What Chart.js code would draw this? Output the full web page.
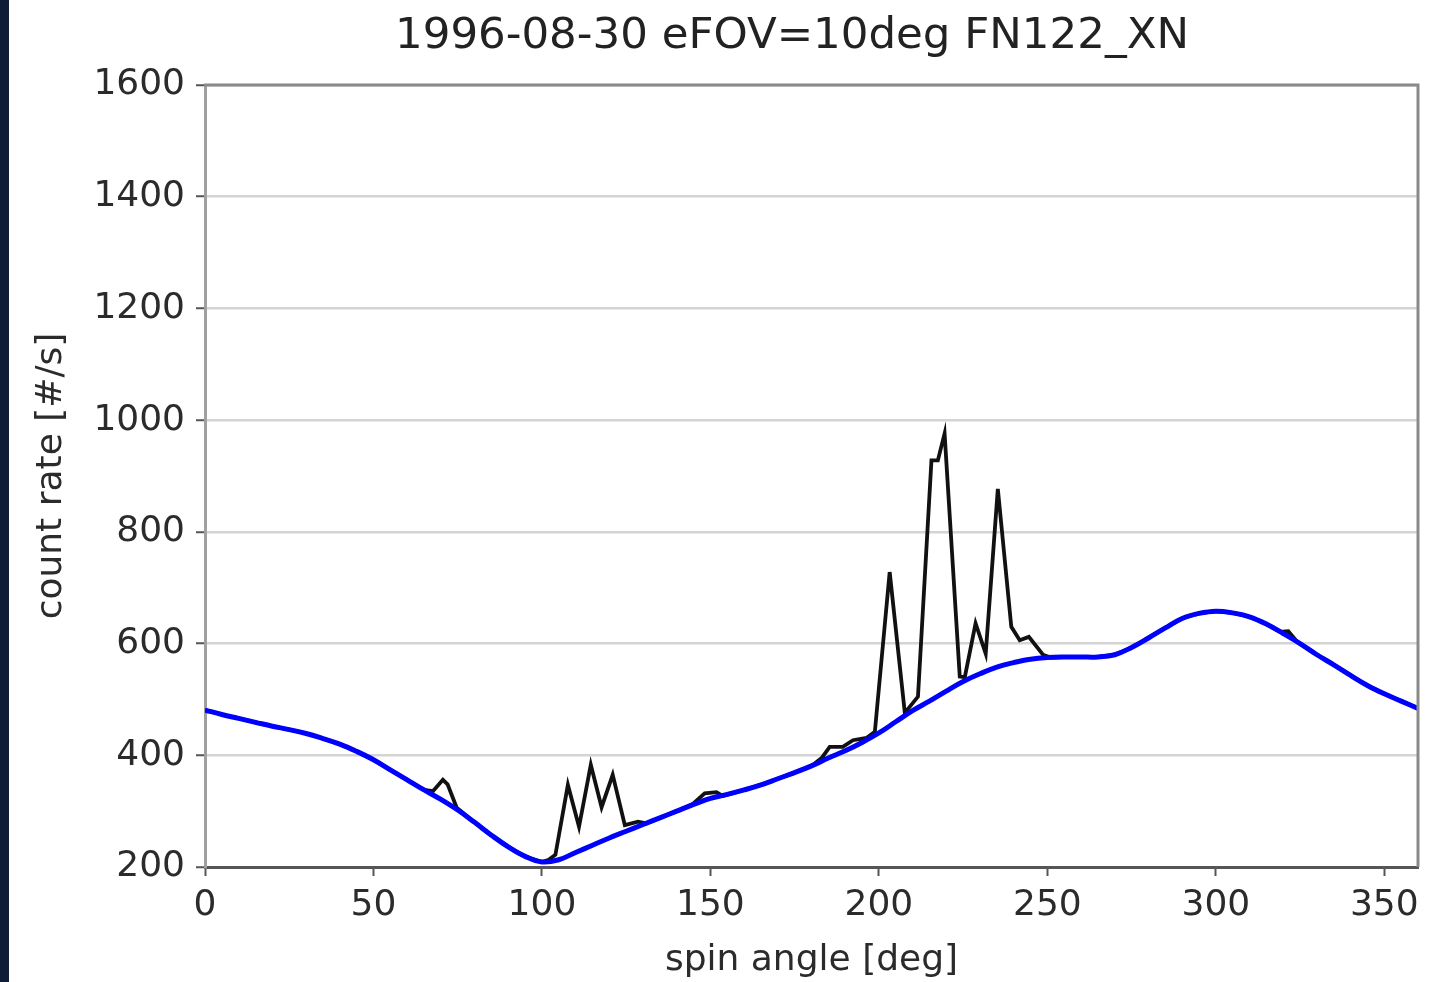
<!DOCTYPE html>
<html>
<head>
<meta charset="utf-8">
<script src="https://cdn.jsdelivr.net/npm/chart.js@4.4.1/dist/chart.umd.min.js"></script>
<style>
  html, body { margin: 0; padding: 0; background: #ffffff; }
  #wrap { position: relative; width: 1449px; height: 982px; }
  #edge { position: absolute; left: 0; top: 0; width: 9px; height: 982px; background: #0f1d36; }
</style>
</head>
<body>
<div id="wrap">
  <canvas id="spin_chart" width="1449" height="982"></canvas>
  <div id="edge"></div>
</div>
<script>
// model curve (blue), read every 5 deg
const modelAngles = [0,5,10,15,20,25,30,35,40,45,50,55,60,65,70,75,80,85,90,95,100,105,110,115,120,125,130,135,140,145,150,155,160,165,170,175,180,185,190,195,200,205,210,215,220,225,230,235,240,245,250,255,260,265,270,275,280,285,290,295,300,305,310,315,320,325,330,335,340,345,350,355,360];
const modelRates = [481,473,466,459,452,446,439,430,420,407,392,374,356,338,321,302,280,257,236,219,209,213,226,239,252,264,276,288,300,312,323,330,338,347,358,369,381,395,408,423,440,460,480,497,515,532,546,558,566,572,575,576,576,576,580,593,610,628,645,654,658,655,648,635,618,600,580,562,543,525,510,497,484];

// measured count rate (black)
const dataAngles = [0,5,10,15,20,25,30,35,40,45,50,55,60,65,67.7,70.6,72,74.7,80,85,90,95,100,102,104,107.7,111,114.5,117.7,121,124.6,128.5,131,135,140,144.8,148.3,151.8,153.7,160,165,170,175,180,183,185.4,189.3,192.3,196.3,198.8,203.2,207.7,211.6,215.6,217.5,219.5,224,225.5,228.7,231.7,235.3,239.3,241.8,244.5,248.7,251,255,260,265,270,275,280,285,290,295,300,305,310,315,319,321.5,324,330,335,340,345,350,355,360];
const dataRates = [481,473,466,459,452,446,439,430,420,407,392,374,356,338,336,356,348,306,280,257,236,219,209,213,222,347,272,383,307,365,275,281,278,288,300,313,332,334,327,338,347,358,369,381,395,415,415,427,431,442,728,476,505,928,928,976,541,540,636,582,877,630,606,612,580,575,576,576,576,580,593,610,628,645,654,658,655,648,635,621,622,604,580,562,543,525,510,497,484];

const xTicks = [0, 50, 100, 150, 200, 250, 300, 350];
const yTicks = [200, 400, 600, 800, 1000, 1200, 1400, 1600];

const chartTitle = '1996-08-30 eFOV=10deg FN122_XN';
const xTitle = 'spin angle [deg]';
const yTitle = 'count rate [#/s]';

const font = 'DejaVu Sans';

function toPoints(xs, ys){
  const pts = [];
  for (let i=0; i<xs.length; i++){
    pts.push({x: xs[i], y: ys[i]});
  }
  return pts;
}

// top and right spines + title (title sits off-centre like the original figure)
const frameBox = {
  id: 'frameBox',
  afterDraw(chart){
    const a = chart.chartArea;
    const ctx = chart.ctx;
    ctx.save();
    ctx.strokeStyle = '#8a8a8a';
    ctx.lineWidth = 3;
    ctx.beginPath();
    ctx.moveTo(a.left - 1, a.top);
    ctx.lineTo(a.right, a.top);
    ctx.lineTo(a.right, a.bottom);
    ctx.stroke();

    ctx.fillStyle = '#222222';
    ctx.font = '43.5px "' + font + '"';
    ctx.textAlign = 'center';
    ctx.textBaseline = 'middle';
    ctx.fillText(chartTitle, 792, 37);
    ctx.restore();
  }
};

const config = {
  type: 'line',
  data: {
    datasets: [
      {
        label: 'model',
        data: toPoints(modelAngles, modelRates),
        borderColor: '#0000ff',
        borderWidth: 5,
        pointRadius: 0,
        tension: 0.4
      },
      {
        label: 'data',
        data: toPoints(dataAngles, dataRates),
        borderColor: '#111111',
        borderWidth: 3.8,
        pointRadius: 0,
        tension: 0
      }
    ]
  },
  options: {
    responsive: false,
    animation: false,
    devicePixelRatio: 1,
    layout: { padding: { left: 0, right: 31, top: 85, bottom: 0 } },
    plugins: {
      legend: { display: false },
      tooltip: { enabled: false },
      title: { display: false }
    },
    scales: {
      x: {
        type: 'linear',
        min: 0,
        max: 360,
        afterBuildTicks: (scale) => { scale.ticks = xTicks.map(v => ({value: v})); },
        afterFit: (scale) => { scale.height = 115; },
        ticks: {
          color: '#2b2b2b',
          font: { family: font, size: 36 },
          padding: 8,
          maxRotation: 0,
          autoSkip: false,
          callback: (v) => String(v)
        },
        grid: { display: true, drawOnChartArea: false, tickLength: 9, tickColor: '#555555', tickWidth: 2 },
        border: { color: '#555555', width: 3 },
        title: {
          display: true,
          text: xTitle,
          color: '#2b2b2b',
          font: { family: font, size: 36 },
          padding: { top: 0, bottom: 0 }
        }
      },
      y: {
        type: 'linear',
        min: 200,
        max: 1600,
        afterBuildTicks: (scale) => { scale.ticks = yTicks.map(v => ({value: v})); },
        afterFit: (scale) => { scale.width = 205; },
        ticks: {
          color: '#2b2b2b',
          font: { family: font, size: 36 },
          padding: 11,
          callback: (v) => String(v)
        },
        grid: { color: '#d4d4d4', lineWidth: 2.5, tickLength: 9, tickColor: '#555555', tickWidth: 2 },
        border: { color: '#a0a0a0', width: 3 },
        title: {
          display: true,
          text: yTitle,
          color: '#2b2b2b',
          font: { family: font, size: 36 },
          padding: { top: 30, bottom: 0 }
        }
      }
    }
  },
  plugins: [frameBox]
};

const spinChart = new Chart(document.getElementById('spin_chart'), config);
</script>
</body>
</html>
